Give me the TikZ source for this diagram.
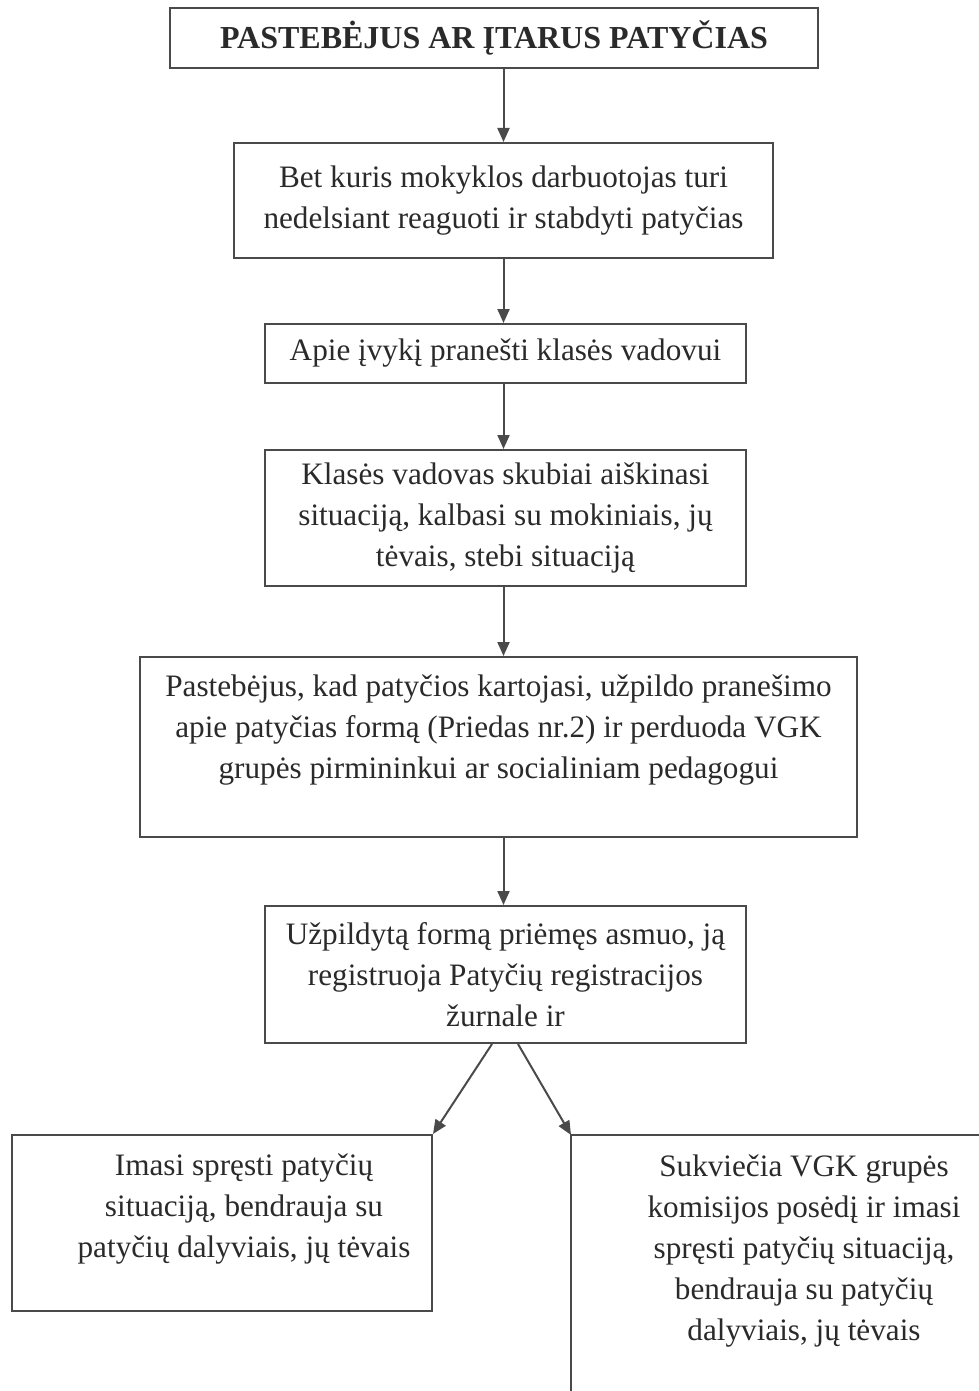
\documentclass[tikz,border=0pt]{standalone}
\usepackage{fontspec}
\setmainfont{Liberation Serif}
\usetikzlibrary{arrows.meta,calc}
\definecolor{linegray}{HTML}{4A4A4A}
\definecolor{txtgray}{HTML}{2A2A2A}
\begin{document}
\begin{tikzpicture}[x=0.5pt,y=-0.5pt,
  box/.style={draw=linegray, line width=1pt, inner sep=0pt, align=center,
    text=txtgray, font=\fontsize{15.6}{20.5}\selectfont},
  txt/.style={inner sep=0pt, align=center, text=txtgray, font=\fontsize{15.6}{20.5}\selectfont},
  arr/.style={draw=linegray, line width=1pt, -{Triangle[length=7pt,width=6pt]}}]
\useasboundingbox (0,0) rectangle (979,1391);
\node[box, minimum width=324pt, minimum height=30pt, font=\fontsize{16}{20.5}\selectfont\bfseries] (b1) at (494,38) {PASTEBĖJUS AR ĮTARUS PATYČIAS};
\node[box, minimum width=269.5pt, minimum height=57.5pt] (b2) at (503.5,200.5) {Bet kuris mokyklos darbuotojas turi\\nedelsiant reaguoti ir stabdyti patyčias};
\node[box, minimum width=240.5pt, minimum height=29.5pt] (b3) at (505.5,353.5) {Apie įvykį pranešti klasės vadovui};
\node[box, minimum width=240.5pt, minimum height=68pt] (b4) at (505.5,518) {Klasės vadovas skubiai aiškinasi\\situaciją, kalbasi su mokiniais, jų\\tėvais, stebi situaciją};
\node[box, minimum width=358.5pt, minimum height=90pt] (b5) at (498.5,747) {Pastebėjus, kad patyčios kartojasi, užpildo pranešimo\\apie patyčias formą (Priedas nr.2) ir perduoda VGK\\grupės pirmininkui ar socialiniam pedagogui\\\mbox{}};
\node[box, minimum width=240.5pt, minimum height=68.5pt] (b6) at (505.5,974.5) {Užpildytą formą priėmęs asmuo, ją\\registruoja Patyčių registracijos\\žurnale ir};
\node[box, minimum width=210pt, minimum height=88pt] (b7) at (222,1223) {};
\node[txt] (t7) at (244,1209) {Imasi spręsti patyčių\\situaciją, bendrauja su\\patyčių dalyviais, jų tėvais};
\coordinate (b8tl) at (571,1135);
\coordinate (b8bl) at (571,1391);
\coordinate (b8tr) at (979,1135);
\node[txt] (t8) at (804,1251) {Sukviečia VGK grupės\\komisijos posėdį ir imasi\\spręsti patyčių situaciją,\\bendrauja su patyčių\\dalyviais, jų tėvais};
\draw[linegray, line width=1pt] (b8bl) -- (b8tl) -- (b8tr);
\draw[arr] (b1.south -| b2.north) -- (b2.north);
\draw[arr] (b2.south) -- (b3.north -| b2.south);
\draw[arr] (b3.south -| b2.south) -- (b4.north -| b2.south);
\draw[arr] (b4.south -| b2.south) -- (b5.north -| b2.south);
\draw[arr] (b5.south -| b2.south) -- (b6.north -| b2.south);
\draw[arr] ([xshift=-6.75pt]b6.south) -- (b7.north east);
\draw[arr] ([xshift=6.25pt]b6.south) -- (b8tl);
\end{tikzpicture}
\end{document}
